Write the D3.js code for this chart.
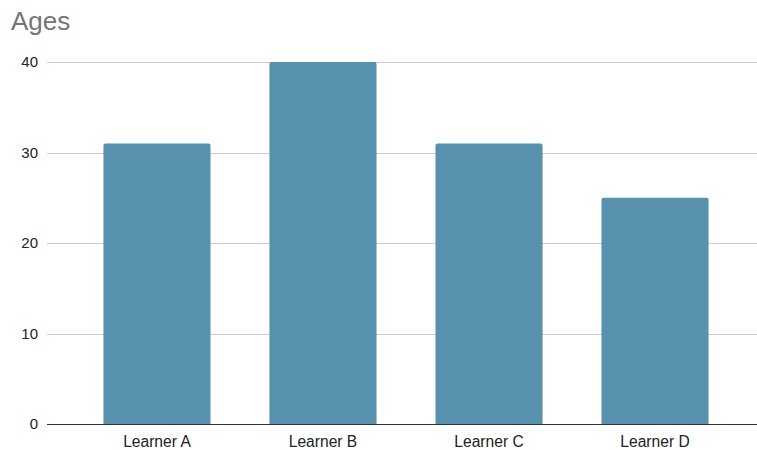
<!DOCTYPE html>
<html><head><meta charset="utf-8">
<script src="https://cdn.jsdelivr.net/npm/d3@7"></script>
<style>body{margin:0;background:#fff}svg{display:block;font-family:"Liberation Sans",Arial,sans-serif}</style>
</head><body>
<svg id="c" width="757" height="450"></svg>
<script>
const categories = ["Learner A", "Learner B", "Learner C", "Learner D"];
const ages = [31, 40, 31, 25];
const yTicks = [0, 10, 20, 30, 40];
const title = "Ages";

(function () {
const svg = d3.select("#c");
const W = 757;
const plotLeft = 47, plotTop = 62, plotBottom = 424;

const x = d3.scaleBand().domain(categories).range([plotLeft, 765]).paddingInner(0.355).paddingOuter(0.34);
const y = d3.scaleLinear().domain([0, 40]).range([plotBottom, plotTop]);

svg.append("text").attr("x", 11).attr("y", 30).attr("fill", "#757575")
  .style("font-size", "26px").text(title);

svg.append("g").selectAll("line").data(yTicks.filter(d => d > 0)).join("line")
  .attr("x1", plotLeft).attr("x2", W).attr("y1", d => Math.round(y(d)) + 0.5).attr("y2", d => Math.round(y(d)) + 0.5)
  .attr("stroke", "#cccccc").attr("stroke-width", 1);

svg.append("g").selectAll("text").data(yTicks).join("text")
  .attr("x", 38).attr("y", d => y(d)).attr("dy", "0.36em").attr("text-anchor", "end")
  .attr("fill", "#222").style("font-size", "15px").text(d => d);

svg.append("g").selectAll("path").data(ages).join("path")
  .attr("fill", "#5891ad")
  .attr("d", (d, i) => {
    const x0 = x(categories[i]), w = x.bandwidth(), y0 = y(d), r = 2;
    return `M${x0},${plotBottom}V${y0 + r}Q${x0},${y0} ${x0 + r},${y0}H${x0 + w - r}Q${x0 + w},${y0} ${x0 + w},${y0 + r}V${plotBottom}Z`;
  });

svg.append("line").attr("x1", plotLeft).attr("x2", W).attr("y1", plotBottom + 0.5).attr("y2", plotBottom + 0.5)
  .attr("stroke", "#333").attr("stroke-width", 1);

svg.append("g").selectAll("text").data(categories).join("text")
  .attr("x", d => x(d) + x.bandwidth() / 2).attr("y", 447).attr("text-anchor", "middle")
  .attr("fill", "#222").style("font-size", "15.6px").text(d => d);
})();
</script>
</body></html>
